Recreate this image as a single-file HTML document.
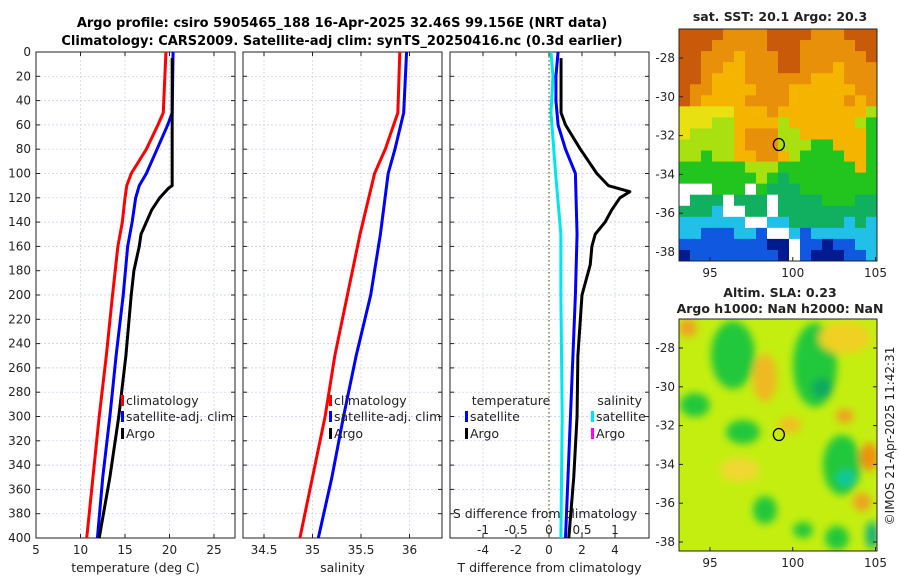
<!DOCTYPE html>
<html><head><meta charset="utf-8"><style>
body{margin:0;background:#fff;}
svg{display:block;font-family:"DejaVu Sans","Liberation Sans",sans-serif;}
</style></head><body>
<svg id="c" width="900" height="580" viewBox="0 0 900 580">
<defs><filter id="bl" x="-50%" y="-50%" width="200%" height="200%"><feGaussianBlur stdDeviation="4"/></filter>
<clipPath id="clipB"><rect x="679" y="319" width="198" height="232"/></clipPath></defs>
<text x="342" y="27" text-anchor="middle" font-size="13" font-weight="bold">Argo profile: csiro 5905465_188 16-Apr-2025 32.46S 99.156E (NRT data)</text>
<text x="342" y="45" text-anchor="middle" font-size="13" font-weight="bold">Climatology: CARS2009. Satellite-adj clim: synTS_20250416.nc (0.3d earlier)</text>
</svg>
<script>
const NS='http://www.w3.org/2000/svg';
const svg=document.getElementById('c');
// shared depth axis
const depthTicks=[0,20,40,60,80,100,120,140,160,180,200,220,240,260,280,300,320,340,360,380,400];
// temperature panel
const tDepth=[0,50,60,80,100,110,120,140,160,200,250,300,350,400];
const tClim=[19.6,19.3,18.7,17.4,15.7,15.2,15.0,14.7,14.2,13.6,12.9,12.1,11.4,10.7];
const tSatDepth=[0,50,60,80,100,110,120,140,160,200,250,300,350,400];
const tSat=[20.4,20.3,19.8,18.6,17.4,16.6,16.2,15.8,15.3,14.8,14.0,13.3,12.5,11.9];
const tArgoDepth=[5,110,112,120,130,140,150,160,180,200,250,300,350,400];
const tArgo=[20.3,20.3,19.9,18.9,18.0,17.4,16.8,16.6,16.0,15.7,15.1,14.3,13.3,12.1];
const tTicks=[5,10,15,20,25];
// salinity panel
const sDepth=[0,50,80,100,150,200,250,300,350,400];
const sClim=[35.90,35.88,35.75,35.64,35.49,35.36,35.23,35.13,35.00,34.87];
const sSat=[35.97,35.94,35.85,35.78,35.70,35.60,35.45,35.32,35.20,35.06];
const sTicks=[34.5,35,35.5,36];
// difference panel
const dArgoDepth=[5,50,60,80,100,110,115,120,130,140,150,160,175,200,250,300,350,400];
const dArgoT=[0.73,0.73,1.0,1.9,2.9,3.6,4.9,4.3,3.8,3.4,2.8,2.6,2.5,2.0,1.75,1.7,1.5,1.2];
const dSatDepth=[0,20,40,60,80,100,150,200,250,300,350,400];
const dSatT=[0.55,0.42,0.42,0.55,1.0,1.6,1.7,1.6,1.45,1.3,1.15,1.0];
const dSatSDepth=[0,20,50,100,150,200,300,400];
const dSatS=[0.03,0.06,0.03,0.10,0.18,0.18,0.20,0.18];
const dTTicks=[-4,-2,0,2,4];
const dSTicks=[-1,-0.5,0,0.5,1];

const Y0=52,Y1=538;
const yD=d=>Y0+d*(Y1-Y0)/400;
const xT=t=>36+(t-5)*8.9;
const xS=s=>264+(s-34.5)*97;
const xDT=t=>549+t*16.5;
const xDS=s=>549+s*66;

function el(tag,attrs,parent){const e=document.createElementNS(NS,tag);for(const k in attrs)e.setAttribute(k,attrs[k]);(parent||svg).appendChild(e);return e;}
function txt(x,y,s,size,anchor,parent){const e=el('text',{x:x,y:y,'font-size':size,'text-anchor':anchor||'middle',fill:'#222'},parent);e.textContent=s;return e;}

function panel(name,x0,x1,xticks,xf,xlabel){
  const g=el('g',{});
  
  
  depthTicks.forEach(d=>{
    if(d>0&&d<400){const l=el('line',{x1:x0,x2:x1,y1:yD(d),y2:yD(d),stroke:'#c4cce8','stroke-width':0.7,'stroke-dasharray':'2,2'},g);
    
    }
    el('line',{x1:x0,x2:x0+4,y1:yD(d),y2:yD(d),stroke:'#222'},g);
    el('line',{x1:x1,x2:x1-4,y1:yD(d),y2:yD(d),stroke:'#222'},g);
  });
  xticks.forEach(t=>{
    const x=xf(t);
    const l=el('line',{x1:x,x2:x,y1:Y0,y2:Y1,stroke:'#ccccec','stroke-width':0.7,'stroke-dasharray':'2,2'},g);
    
    
    el('line',{x1:x,x2:x,y1:Y1,y2:Y1-4,stroke:'#222'},g);
    el('line',{x1:x,x2:x,y1:Y0,y2:Y0+4,stroke:'#222'},g);
    const lb=txt(x,554,String(t),12,'middle',g);
    
    
  });
  const r=el('rect',{x:x0,y:Y0,width:x1-x0,height:Y1-Y0,fill:'none',stroke:'#222','stroke-width':1},g);
  
  
  const xl=txt((x0+x1)/2,572,xlabel,12.5,'middle',g);
  
  
  return g;
}
function line(g,xs,ds,xf,color,name,w){
  const p=el('polyline',{points:xs.map((v,i)=>xf(v)+','+yD(ds[i])).join(' '),fill:'none',stroke:color,'stroke-width':w||3,'stroke-linejoin':'round'},g);
  
  
}
function legend(g,x,y,color,label){
  el('rect',{x:x,y:y-10,width:3,height:11,fill:color},g);
  const t=txt(x+5,y,label,12.5,'start',g);
  
  
}

depthTicks.forEach(d=>{const t=txt(31,yD(d)+4,String(d),12,'end');

});

const g1=panel('temperature-panel',36,235,tTicks,xT,'temperature (deg C)');
line(g1,tClim,tDepth,xT,'#ff0000','climatology-temp-line');
line(g1,tSat,tSatDepth,xT,'#0000ff','satellite-temp-line');
line(g1,tArgo,tArgoDepth,xT,'#000000','argo-temp-line');
legend(g1,121,405,'#ff0000','climatology');
legend(g1,121,421,'#0000ff','satellite-adj. clim');
legend(g1,121,438,'#000000','Argo');

const g2=panel('salinity-panel',243,442,sTicks,xS,'salinity');
line(g2,sClim,sDepth,xS,'#ff0000','climatology-salinity-line');
line(g2,sSat,sDepth,xS,'#0000ff','satellite-salinity-line');
legend(g2,329,405,'#ff0000','climatology');
legend(g2,329,421,'#0000ff','satellite-adj. clim');
legend(g2,329,438,'#000000','Argo');

const g3=panel('difference-panel',450,649,dTTicks,xDT,'T difference from climatology');
const zl=el('line',{x1:549,x2:549,y1:Y0,y2:Y1,stroke:'#556b2f','stroke-width':1.2,'stroke-dasharray':'1.5,2.5'},g3);


line(g3,dSatS,dSatSDepth,xDS,'#00e5ee','satellite-salinity-diff-line');
line(g3,dSatT,dSatDepth,xDT,'#0000ff','satellite-temp-diff-line');
line(g3,dArgoT,dArgoDepth,xDT,'#000000','argo-temp-diff-line');
dSTicks.forEach(s=>{const t=txt(xDS(s),534,String(s),12,'middle',g3);

});
const st=txt(545,518,'S difference from climatology',12.5,'middle',g3);


const lt=txt(511,405,'temperature',12.5,'middle',g3);


const ls=txt(642,405,'salinity',12.5,'end',g3);


legend(g3,465,421,'#0000ff','satellite');
legend(g3,465,438,'#000000','Argo');
legend(g3,591,421,'#00e5ee','satellite');
legend(g3,591,438,'#ff00ff','Argo');

// SST map
const sstRows=[
'RRRROOOORRRROOORRR','RRROOOOORRROOOOORR','RROOOYOOORROOOOOOR','RROOYYOOORROOOYOOO',
'RROYYYOOOOOOYYYOOO','ROOYYYYOOOYYYYYYOO','ROYYYYOOOOYYYYYOYO','yyyyyYYYOYYYYYYYYL',
'yyyLLYYYYLYYYYYYLG','yLLLLYOOOLLYYYYYYG','LLLLLYOOOLLLGGYYYG','LLGLLYYOOYLGGGGYYG',
'GGGGGGLLLGGGGGGGYG','GGGGGGGLGgGGGGGGGG','WWWGGGWGgggGGGGGGG','WgggWgggWggggGGGgg',
'gggCWWggWggggggggg','CCCCCCWWCCgggggCgC','CCBBBCCBWWCBCCCCCC','BBBBBBBBNNWBBNBBCC',
'NBBBBBBBBNWBNNNBBC'];
const pal={R:'#c85a0a',O:'#e8900a',Y:'#f5b400',y:'#e8e010',L:'#a8e010',G:'#22c41e',g:'#10b060',C:'#20c0e8',B:'#1058e0',N:'#001a90',W:'#ffffff'};
const latTicks=[-28,-30,-32,-34,-36,-38];
const lonTicks=[95,100,105];
function mapAxes(name,top,bottom,rightTicks){
  const lonX=l=>710+(l-95)*16.55;
  const latY=la=>top+29+(-28-la)*19.4;
  const g=el('g',{});
  
  
  const r=el('rect',{x:679,y:top,width:198,height:bottom-top,fill:'none',stroke:'#222'},g);
  
  
  latTicks.forEach(la=>{const y=latY(la);
    el('line',{x1:679,x2:683,y1:y,y2:y,stroke:'#222'},g);
    if(rightTicks)el('line',{x1:877,x2:873,y1:y,y2:y,stroke:'#222'},g);
    const t=txt(675,y+4,String(la),12,'end',g);
    
    });
  lonTicks.forEach(l=>{const x=lonX(l);
    el('line',{x1:x,x2:x,y1:bottom,y2:bottom-4,stroke:'#222'},g);
    const t=txt(x,bottom+16,String(l),12,'middle',g);
    
    });
  const c=el('ellipse',{cx:lonX(99.16),cy:latY(-32.46),rx:5.5,ry:6,fill:'none',stroke:'#000','stroke-width':1.3},g);
  
  
}
const mg=el('g',{});


const cw=198/18,ch=232/21;
sstRows.forEach((row,r)=>{[...row].forEach((k,c)=>{el('rect',{x:679+c*cw,y:29+r*ch,width:cw+0.5,height:ch+0.5,fill:pal[k]},mg);});});
mapAxes('sst-map-axes',29,261,false);
const t1=txt(780,21,'sat. SST: 20.1 Argo: 20.3',12.5,'middle');t1.setAttribute('font-weight','bold');



// SLA map
const slaBlobs=[
['#22c83a',733,355,22,34],['#22c83a',815,365,22,42],['#10a860',822,388,10,10],['#22c83a',695,405,15,12],
['#22c83a',743,432,17,12],['#22c83a',842,465,19,30],['#10c8a0',846,478,9,8],['#22c83a',765,510,12,14],
['#22c83a',837,538,12,12],['#22c83a',803,530,10,8],['#10b080',872,535,6,14],['#f0b820',765,378,12,24],
['#f09010',869,457,9,14],['#f0a020',845,416,9,7],['#f0a020',688,328,9,9],['#f0d020',845,338,26,16],
['#f0a020',862,502,9,9],['#f0c020',790,425,12,8],['#f0d830',740,470,20,12]];
const sg=el('g',{'clip-path':'url(#clipB)'});


el('rect',{x:679,y:319,width:198,height:232,fill:'#c4ee10'},sg);
const bg=el('g',{filter:'url(#bl)'},sg);
slaBlobs.forEach(b=>{el('ellipse',{cx:b[1],cy:b[2],rx:b[3],ry:b[4],fill:b[0]},bg);});
mapAxes('sla-map-axes',319,551,true);
const t2=txt(780,297,'Altim. SLA: 0.23',12.5,'middle');t2.setAttribute('font-weight','bold');


const t3=txt(780,313,'Argo h1000: NaN h2000: NaN',12.5,'middle');t3.setAttribute('font-weight','bold');


const cp=txt(0,0,'©IMOS 21-Apr-2025 11:42:31',12,'middle');
cp.setAttribute('transform','translate(894,436) rotate(-90)');


</script>
</body></html>
